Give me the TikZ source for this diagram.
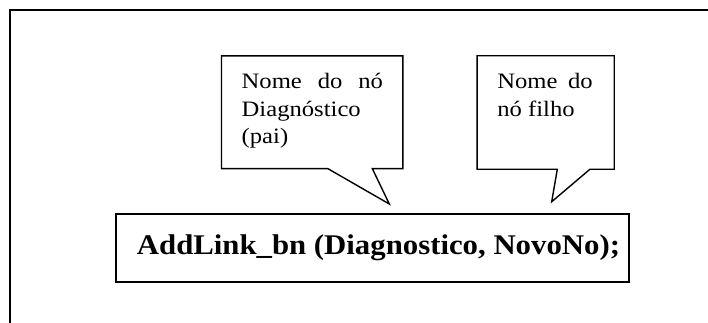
\documentclass[tikz,border=0pt]{standalone}
\usepackage{fontspec}
\setmainfont{Liberation Serif}
\newfontfamily\notefont[FakeStretch=1.12]{Liberation Serif}
\newfontfamily\codefont[FakeStretch=1.08]{Liberation Serif}
\begin{document}
\begin{tikzpicture}[x=1pt,y=1pt,
  frameline/.style={line width=2pt},
  callbox/.style={draw=none, inner sep=0pt, rectangle},
  calloutline/.style={line width=1.4pt, line join=miter},
  notetext/.style={inner sep=0pt, anchor=base west,
    font=\notefont\fontsize{22}{27.2}\selectfont},
  codebox/.style={draw, line width=2pt, inner sep=0pt,
    minimum width=513.6pt, minimum height=67.4pt,
    font=\codefont\bfseries\fontsize{28.5}{30}\selectfont}]
\useasboundingbox (0,0) rectangle (708,322);

% outer frame (only its left and top edges fall inside the page)
\draw[frameline] (10,-5) -- (10,312) -- (715,312);

% function call
\node[codebox] (call) at (372.5,74) {\hspace*{12pt}\raisebox{1.5pt}{AddLink\_bn (Diagnostico, NovoNo);}};

% callout for the parent node name
\node[callbox, minimum width=181pt, minimum height=112.3pt] (c1) at (312.2,209.8) {};
\coordinate (t1) at (389.3,118);
\draw[calloutline] (c1.south west) -- (c1.north west) -- (c1.north east) -- (c1.south east)
  -- ([xshift=60.1pt]c1.south) -- (t1) -- ([xshift=15.5pt]c1.south) -- cycle;
\node[notetext] (n1) at ([xshift=20pt,yshift=-33pt]c1.north west)
  {\parbox[t]{150pt}{\makebox[141.3pt][s]{Nome do nó}\\Diagnóstico\\(pai)}};

% callout for the child node name
\node[callbox, minimum width=136.7pt, minimum height=113pt] (c2) at (545.65,209.5) {};
\coordinate (t2) at (551.7,120.3);
\draw[calloutline] (c2.south west) -- (c2.north west) -- (c2.north east) -- (c2.south east)
  -- ([xshift=44.35pt]c2.south) -- (t2) -- ([xshift=11.65pt]c2.south) -- cycle;
\node[notetext] (n2) at ([xshift=20pt,yshift=-33pt]c2.north west)
  {\parbox[t]{110pt}{\makebox[95.4pt][s]{Nome do}\\nó filho}};
\end{tikzpicture}
\end{document}
